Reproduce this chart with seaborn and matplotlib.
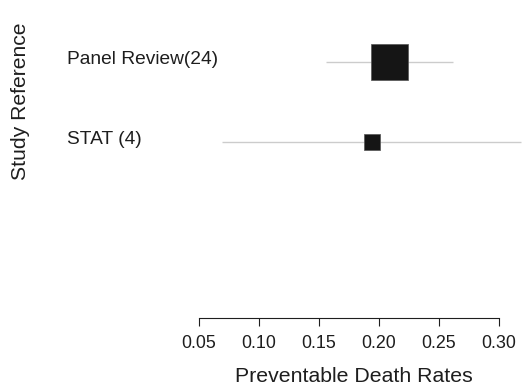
#!/usr/bin/env python3
"""Forest plot of preventable death rates by study."""

import matplotlib
matplotlib.use("Agg")
import matplotlib.pyplot as plt
import matplotlib.transforms as mtransforms
import pandas as pd
import seaborn as sns

# data
studies = ["Panel Review(24)", "STAT (4)"]
estimate = [0.209, 0.194]
lower = [0.156, 0.069]
upper = [0.262, 0.318]
n_studies = [24, 4]
x_ticks = [0.05, 0.10, 0.15, 0.20, 0.25, 0.30]

INK = "#1e1e1e"


def main():
    sns.set_theme(style="ticks")
    plt.rcParams["font.family"] = ["Liberation Sans", "DejaVu Sans"]

    df = pd.DataFrame({
        "study": studies,
        "rate": estimate,
        "lo": lower,
        "hi": upper,
        "n": n_studies,
    })
    df["row"] = range(len(df))

    W, H = 530, 385
    fig = plt.figure(figsize=(W / 100, H / 100), dpi=100)
    ax = fig.add_axes([199 / W, 1 - 318 / H, 300 / W, 288 / H])

    # confidence intervals
    ax.hlines(df["row"], df["lo"], df["hi"], color="#cccccc", lw=1.0,
              clip_on=False, zorder=1)
    # point estimates, square area by weight
    sns.scatterplot(data=df, x="rate", y="row", size="n", sizes=(133, 709),
                    marker="s", color="#151515", edgecolor="#555555",
                    linewidth=0.5, legend=False, ax=ax, zorder=3,
                    clip_on=False)

    ax.set_xlim(0.05, 0.30)
    ax.set_ylim(3.2, -0.4)
    ax.set_xticks(x_ticks)
    ax.set_xticklabels([f"{t:.2f}" for t in x_ticks])
    ax.set_yticks([])
    ax.tick_params(axis="x", length=6, width=0.8, color=INK,
                   labelsize=12.9, pad=6.5, labelcolor=INK)
    ax.set_xlabel("")
    ax.set_ylabel("")

    sns.despine(ax=ax, left=True)
    ax.spines["bottom"].set_color(INK)
    ax.spines["bottom"].set_linewidth(0.8)

    trans = mtransforms.blended_transform_factory(fig.transFigure, ax.transData)
    trans = mtransforms.offset_copy(trans, fig=fig, y=2, units="dots")
    for _, r in df.iterrows():
        ax.text(67 / W, r["row"], r["study"], transform=trans, ha="left",
                va="center", fontsize=13.8, color=INK)

    fig.text(354 / W, 1 - 382 / H, "Preventable Death Rates", ha="center",
             va="baseline", fontsize=15.3, color=INK)
    fig.text(20.5 / W, 1 - 101 / H, "Study Reference", ha="center",
             va="center", rotation=90, fontsize=15.2, color=INK)

    fig.savefig("out.png", dpi=100)
    plt.close(fig)


if __name__ == "__main__":
    main()
